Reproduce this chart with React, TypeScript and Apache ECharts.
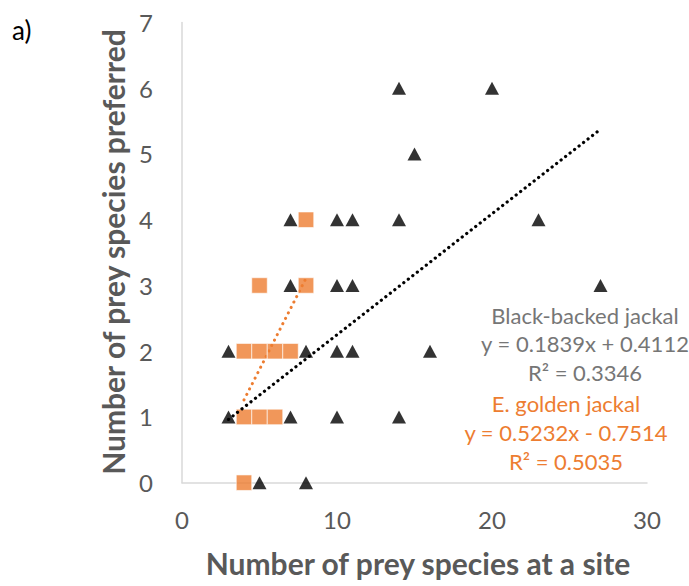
import React, { useEffect, useRef } from "react";
import * as echarts from "echarts";

// Black-backed jackal (triangles)
const blackX = [14, 20, 15, 7, 10, 11, 14, 23, 7, 10, 11, 27, 3, 8, 10, 11, 16, 3, 7, 10, 14, 5, 8];
const blackY = [6, 6, 5, 4, 4, 4, 4, 4, 3, 3, 3, 3, 2, 2, 2, 2, 2, 1, 1, 1, 1, 0, 0];
// E. golden jackal (squares)
const goldenX = [8, 5, 8, 4, 5, 6, 7, 4, 5, 6, 4];
const goldenY = [4, 3, 3, 2, 2, 2, 2, 1, 1, 1, 0];

// Trend lines
const blackSlope = 0.1839;
const blackIntercept = 0.4112;
const blackTrendX = [3, 27];
const goldenTrendX = [4, 8];
const goldenTrendY = [1.26, 3.11];

const blackLabels = ["Black-backed jackal", "y = 0.1839x + 0.4112", "R² = 0.3346"];
const goldenLabels = ["E. golden jackal", "y = 0.5232x - 0.7514", "R² = 0.5035"];

const xTitle = "Number of prey species at a site";
const yTitle = "Number of prey species preferred";
const panelLabel = "a)";

const FONT = "Lato, 'Open Sans', sans-serif";

export default function App() {
  const ref = useRef<HTMLDivElement>(null);
  useEffect(() => {
    document.body.style.margin = "0";
    if (!ref.current) return;
    const chart = echarts.init(ref.current, undefined, { renderer: "svg" });

    const textEl = (text: string, x: number, y: number, fill: string, size: number, weight = "normal", rotation = 0) => ({
      type: "text",
      x,
      y,
      rotation,
      z: 100,
      style: {
        text,
        fill,
        font: `${weight} ${size}px ${FONT}`,
        textAlign: "center",
        textVerticalAlign: "middle",
        align: "center",
        verticalAlign: "middle",
      },
    });

    const graphics: any[] = [];
    blackLabels.forEach((t, i) => graphics.push(textEl(t, 585, 315 + i * 28.5, "#767676", 22)));
    goldenLabels.forEach((t, i) => graphics.push(textEl(t, 566, 403 + i * 29.3, "#ED7D31", 22)));
    graphics.push(textEl(xTitle, 418, 563, "#595959", 30, "bold"));
    graphics.push(textEl(yTitle, 113, 252, "#595959", 30, "bold", Math.PI / 2));
    graphics.push({
      type: "text",
      x: 12,
      y: 30,
      style: {
        text: panelLabel,
        fill: "#000",
        font: `26px ${FONT}`,
        textAlign: "left",
        textVerticalAlign: "middle",
        align: "left",
        verticalAlign: "middle",
      },
    });

    chart.setOption({
      animation: false,
      backgroundColor: "#fff",
      grid: { left: 182, right: 42, top: 22.5, bottom: 103.3, containLabel: false },
      xAxis: {
        type: "value",
        min: 0,
        max: 30,
        interval: 10,
        axisLine: { show: true, lineStyle: { color: "#d9d9d9", width: 1.5 } },
        axisTick: { show: false },
        splitLine: { show: false },
        axisLabel: { color: "#595959", fontSize: 24, fontFamily: FONT, margin: 25 },
      },
      yAxis: {
        type: "value",
        min: 0,
        max: 7,
        interval: 1,
        axisLine: { show: true, lineStyle: { color: "#d9d9d9", width: 1.5 } },
        axisTick: { show: false },
        splitLine: { show: false },
        axisLabel: { color: "#595959", fontSize: 24, fontFamily: FONT, margin: 29 },
      },
      series: [
        {
          type: "scatter",
          name: "Black-backed jackal",
          data: blackX.map((x, i) => [x, blackY[i]]),
          symbol: "triangle",
          symbolSize: [14, 13],
          itemStyle: { color: "#000" },
          z: 2,
        },
        {
          type: "scatter",
          name: "E. golden jackal",
          data: goldenX.map((x, i) => [x, goldenY[i]]),
          symbol: "rect",
          symbolSize: 15.5,
          itemStyle: { color: "#ED7D31", borderColor: "#ffffff", borderWidth: 0.75 },
          z: 3,
        },
        {
          type: "line",
          data: blackTrendX.map((x) => [x, blackSlope * x + blackIntercept]),
          showSymbol: false,
          symbol: "none",
          lineStyle: { color: "#000", width: 3.2, type: [0.1, 5.6], cap: "round" },
          z: 4,
        },
        {
          type: "line",
          data: goldenTrendX.map((x, i) => [x, goldenTrendY[i]]),
          showSymbol: false,
          symbol: "none",
          lineStyle: { color: "#ED7D31", width: 3, type: [0.1, 6], cap: "round" },
          z: 1,
        },
      ],
      graphic: graphics,
    });
    return () => chart.dispose();
  }, []);
  return <div ref={ref} style={{ width: 689, height: 586 }} />;
}
